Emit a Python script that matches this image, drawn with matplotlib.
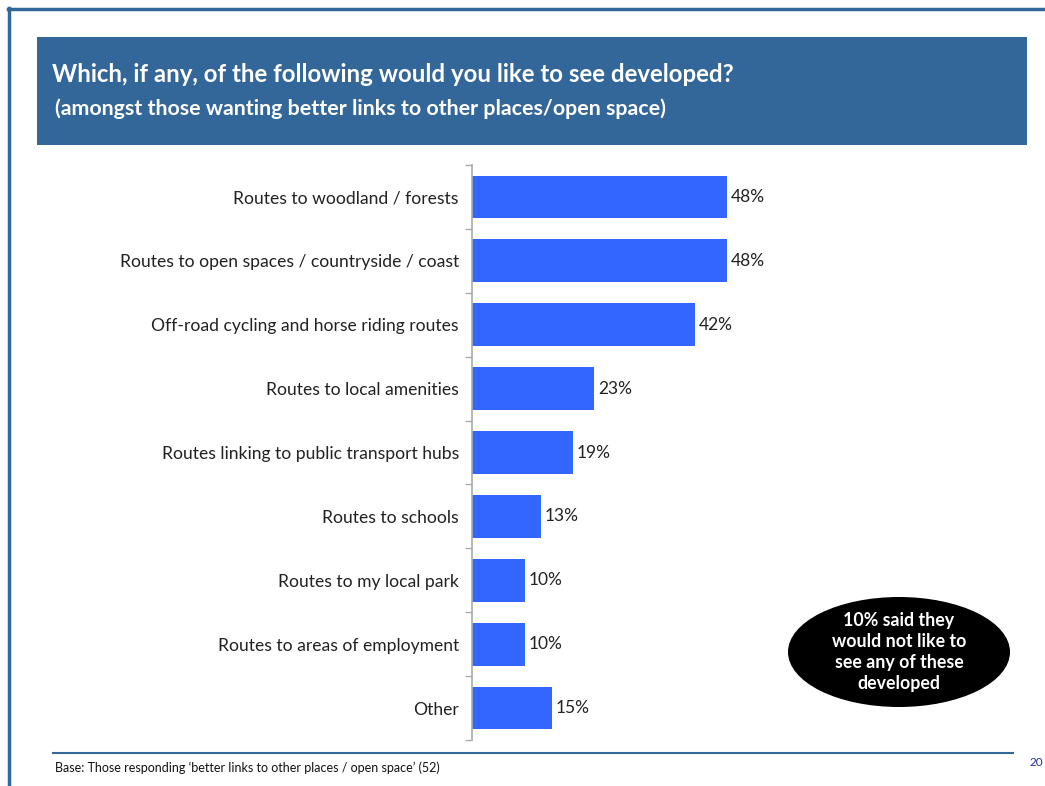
import matplotlib
matplotlib.use("Agg")
import matplotlib.pyplot as plt
from matplotlib.patches import Rectangle, Ellipse
from matplotlib.lines import Line2D

plt.rcParams['font.family'] = ['Lato', 'DejaVu Sans']

categories = [
    "Routes to woodland / forests",
    "Routes to open spaces / countryside / coast",
    "Off-road cycling and horse riding routes",
    "Routes to local amenities",
    "Routes linking to public transport hubs",
    "Routes to schools",
    "Routes to my local park",
    "Routes to areas of employment",
    "Other",
]
values = [48, 48, 42, 23, 19, 13, 10, 10, 15]

W, H = 1045, 786
fig = plt.figure(figsize=(W / 100, H / 100), dpi=100)

def fx(px):
    return px / W

def fy(py):
    return 1 - py / H

frame_blue = "#336699"

# slide frame: top and left rules
fig.add_artist(Line2D([fx(8), 1], [fy(9), fy(9)], color=frame_blue, lw=2.5))
fig.add_artist(Line2D([fx(9), fx(9)], [fy(8), 0], color=frame_blue, lw=2.5))

# title banner
fig.add_artist(Rectangle((fx(37), fy(145)), fx(1027) - fx(37), fy(37) - fy(145),
                         facecolor=frame_blue, edgecolor="none"))
fig.text(fx(52), fy(74), "Which, if any, of the following would you like to see developed?",
         color="white", fontsize=17.3, fontweight="bold", va="center", ha="left")
fig.text(fx(55), fy(109), "(amongst those wanting better links to other places/open space)",
         color="white", fontsize=15.4, fontweight="bold", va="center", ha="left")

# bar chart
ax_left, ax_right, ax_top, ax_bot = 472, 1000, 165, 740
ax = fig.add_axes([fx(ax_left), fy(ax_bot), fx(ax_right) - fx(ax_left), fy(ax_top) - fy(ax_bot)])
px_per_pct = 255 / 48
ax.set_xlim(0, (ax_right - ax_left) / px_per_pct)
n = len(categories)
ax.set_ylim(n - 0.5, -0.5)
ypos = list(range(n))
bars = ax.barh(ypos, values, height=0.67, color="#3366FF")
for y, v in zip(ypos, values):
    ax.text(v + 0.7, y, f"{v}%", va="center", ha="left", fontsize=12.5, color="#222222")

ax.set_yticks(ypos)
ax.set_yticklabels(categories, fontsize=12.6, color="#222222")
ax.tick_params(axis="y", length=0, pad=9.5)
ax.set_yticks([i - 0.5 for i in range(n + 1)], minor=True)
ax.tick_params(axis="y", which="minor", length=5, color="#AAAAAA", width=1)
ax.set_xticks([])
for s in ("top", "right", "bottom"):
    ax.spines[s].set_visible(False)
ax.spines["left"].set_color("#AAAAAA")
ax.spines["left"].set_linewidth(1.2)

# callout
fig.add_artist(Ellipse((fx(899), fy(652)), fx(222), 110 / H, facecolor="black", edgecolor="none"))
fig.text(fx(899), fy(652), "10% said they\nwould not like to\nsee any of these\ndeveloped",
         color="white", fontsize=12.8, fontweight="bold", ha="center", va="center",
         linespacing=1.3)

# footer
fig.add_artist(Line2D([fx(53), fx(1013)], [fy(753), fy(753)], color=frame_blue, lw=1.5))
fig.text(fx(55), fy(768), "Base: Those responding \u2018better links to other places / open space\u2019 (52)",
         fontsize=9, color="#111111", va="center", ha="left")
fig.text(fx(1036), fy(763), "20", fontsize=8.5, color="#1F2F9F", va="center", ha="center")

fig.savefig("out.png", dpi=100)
